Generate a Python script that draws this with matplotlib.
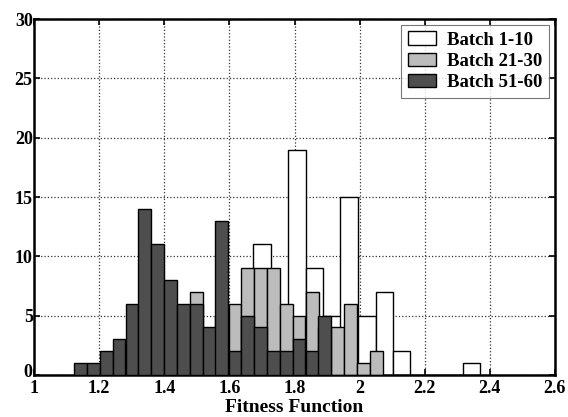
import matplotlib
matplotlib.use('Agg')
from matplotlib import pyplot as plt
from matplotlib import transforms

# bin centres
centres_early = [1.700, 1.754, 1.808, 1.861, 1.915, 1.968, 2.022,
                 2.076, 2.129, 2.183, 2.236, 2.290, 2.343]
counts_early  = [11, 4, 19, 9, 5, 15, 5, 7, 2, 0, 0, 0, 1]

centres_late = [1.143, 1.182, 1.222, 1.261, 1.301, 1.340, 1.380, 1.419,
                1.459, 1.498, 1.538, 1.577, 1.617, 1.656, 1.696, 1.735,
                1.775, 1.814, 1.854, 1.893, 1.933, 1.972, 2.012, 2.051]
counts_mid  = [0, 0, 0, 0, 1, 2, 3, 4, 5, 7, 3, 5,
               6, 9, 9, 9, 6, 5, 7, 4, 4, 6, 1, 2]
counts_last = [1, 1, 2, 3, 6, 14, 11, 8, 6, 6, 4, 13,
               2, 5, 4, 2, 2, 3, 2, 5, 0, 0, 0, 0]

labels = ['Batch 1-10', 'Batch 21-30', 'Batch 51-60']
xticks = [1, 1.2, 1.4, 1.6, 1.8, 2, 2.2, 2.4, 2.6]
xticklabels = ['1', '1.2', '1.4', '1.6', '1.8', '2', '2.2', '2.4', '2.6']
yticks = [0, 5, 10, 15, 20, 25, 30]

w_early = 0.0536
w_late = 0.0395

plt.rcParams['font.family'] = ['Liberation Serif', 'DejaVu Serif']
plt.rcParams['font.weight'] = 'bold'

fig = plt.figure(figsize=(5.68, 4.17), dpi=100)
ax = fig.add_axes([0.060, 0.101, 0.917, 0.853])

ax.bar(centres_early, counts_early, width=w_early, color='white',
       edgecolor='black', linewidth=1.0, label=labels[0], zorder=2)
ax.bar(centres_late, counts_mid, width=w_late, color='#bcbcbc',
       edgecolor='black', linewidth=1.0, label=labels[1], zorder=3)
ax.bar(centres_late, counts_last, width=w_late, color='#4e4e4e',
       edgecolor='black', linewidth=1.0, label=labels[2], zorder=4)

ax.set_xlim(1, 2.6)
ax.set_ylim(0, 30)
ax.set_xticks(xticks)
ax.set_xticklabels(xticklabels)
ax.set_yticks(yticks)
ax.tick_params(direction='in', top=True, right=True, length=4, width=1.2,
               labelsize=13)
ax.tick_params(axis='x', pad=4)
ax.tick_params(axis='y', pad=1)
ax.grid(True, linestyle=':', color='#333333', linewidth=0.9)
ax.set_axisbelow(True)
for s in ax.spines.values():
  s.set_linewidth(1.8)

# nudge the "0" up a little so it clears the "1" below it
lbl0 = ax.get_yticklabels()[0]
lbl0.set_transform(lbl0.get_transform() +
                   transforms.ScaledTranslation(0, 4/100., fig.dpi_scale_trans))

ax.set_xlabel('Fitness Function', fontsize=14, fontweight='bold', va='bottom')
ax.xaxis.set_label_coords(0.5, -0.115)

leg = ax.legend(loc='upper right', fontsize=13.5, frameon=True, fancybox=False,
                edgecolor='#555555', borderaxespad=0.3, handlelength=1.5,
                handleheight=0.75, labelspacing=0.2, borderpad=0.35,
                handletextpad=0.6)
leg.get_frame().set_linewidth(0.8)

plt.savefig('out.png', dpi=100)
